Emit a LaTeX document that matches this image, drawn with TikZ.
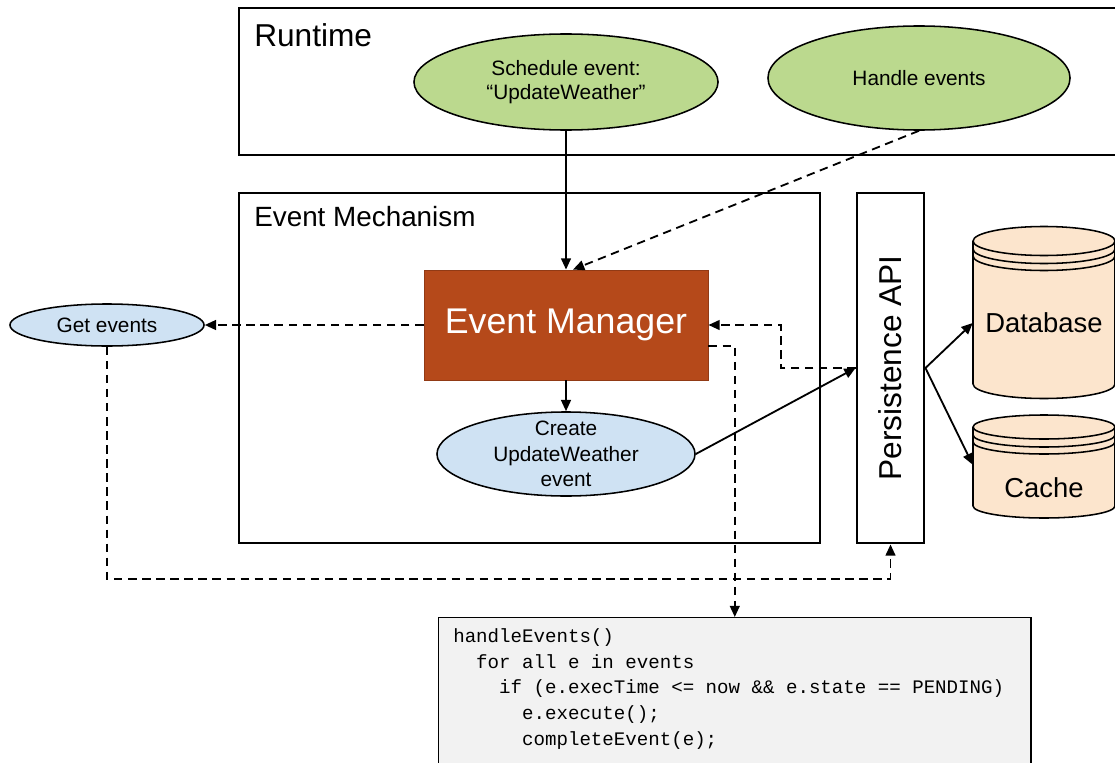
\documentclass[tikz,border=0pt]{standalone}
\usepackage{fontspec}
\setmainfont{Liberation Sans}
\setmonofont{Liberation Mono}
\usepackage{tikz}
\usetikzlibrary{arrows.meta, positioning, shapes.geometric}
\usepackage{xcolor}
\definecolor{taskgreen}{HTML}{BBD98E}
\definecolor{taskblue}{HTML}{CFE2F3}
\definecolor{managerred}{HTML}{B5491A}
\definecolor{storepeach}{HTML}{FCE5CD}
\definecolor{codegray}{HTML}{F2F2F2}

\begin{document}
\begin{tikzpicture}[x=0.025cm, y=-0.025cm,
  frame/.style={draw, line width=2pt},
  title/.style={anchor=west, inner sep=0pt},
  task/.style={ellipse, draw, line width=1.1pt, inner sep=0pt, align=center,
               font=\fontsize{14.8}{17}\selectfont},
  link/.style={line width=1.3pt, -{Triangle[length=8pt,width=7pt]}},
  dlink/.style={link, dash pattern=on 6pt off 4pt},
  store/.style={draw, fill=storepeach, line width=1.1pt},
  storetext/.style={inner sep=0pt, minimum width=3.55cm, minimum height=1.15cm,
                    font=\fontsize{19.5}{22}\selectfont}]
  \useasboundingbox (0,0) rectangle (1115,762);

  % containers
  \draw[frame] (239,8) rectangle (1125,155);
  \node[title, font=\fontsize{22.5}{26}\selectfont] (rtlabel) at (254,35) {Runtime};
  \draw[frame] (239,193) rectangle (820,543);
  \node[title, font=\fontsize{19.8}{23}\selectfont] (emlabel) at (254,217) {Event Mechanism};

  \node[task, fill=taskgreen, minimum width=7.6cm, minimum height=2.4cm] (sched) at (566,82)
    {Schedule event:\\“UpdateWeather”};
  \node[task, fill=taskgreen, minimum width=7.55cm, minimum height=2.6cm] (handle) at (919,78)
    {Handle events};
  \node[draw=managerred!80!black, fill=managerred, line width=0.6pt, minimum width=7.1cm,
        minimum height=2.75cm, text=white, font=\fontsize{25.4}{30}\selectfont] (em) at (566,325)
    {Event Manager};
  \node[task, fill=taskblue, minimum width=6.45cm, minimum height=2.1cm,
        label={[align=center, font=\fontsize{14.8}{18}\selectfont]center:Create\\UpdateWeather\\event}]
    (create) at (566,454) {};
  \node[task, fill=taskblue, minimum width=4.85cm, minimum height=1.05cm] (get) at (107,325) {Get events};
  \node[draw, line width=2pt, minimum width=1.675cm, minimum height=8.75cm,
        label={[rotate=90, font=\fontsize{22.5}{26}\selectfont]center:Persistence API}]
    (api) at (890.5,368) {};

  % storage cylinders
  \foreach \n/\ya/\yb/\ry/\lab/\ty in {db/241/384/14.5/Database/323, cache/427/506/12/Cache/488}
  {
    \filldraw[store] (973,\ya) -- (973,\yb) arc[start angle=180, end angle=0, x radius=71, y radius=\ry]
      -- (1115,\ya) arc[start angle=0, end angle=-180, x radius=71, y radius=\ry] -- cycle;
    \foreach \dy in {0,8,15}
      \draw[line width=1.1pt] (973,\ya+\dy) arc[start angle=180, end angle=0, x radius=71, y radius=\ry];
    \node[storetext] (\n) at (1044,\ty) {\lab};
  }

  % code listing
  \node[draw, line width=1pt, fill=codegray, anchor=north west, minimum width=14.8cm,
        minimum height=4.5cm] (code) at (438,617) {};
  \node[anchor=north west, inner sep=0pt, align=left, font=\ttfamily\fontsize{13.6}{18.4}\selectfont]
    (codetxt) at (453,628)
    {handleEvents()\\
     \phantom{xx}for all e in events\\
     \phantom{xxxx}if (e.execTime <= now \&\& e.state == PENDING)\\
     \phantom{xxxxxx}e.execute();\\
     \phantom{xxxxxx}completeEvent(e);};

  % connectors
  \draw[link] (sched.south) -- (em.north);
  \draw[dlink] (handle.south) -- ([xshift=0.175cm]em.north);
  \draw[dlink] (em.west) -- (get.east);
  \draw[link] (em.south) -- (create.north);
  \draw[link] (create.east) -- (api.west);
  \draw[dlink] (api.west) -- ++(-75,0) |- (em.east);
  \draw[dlink] ([yshift=-0.525cm]em.east) -| (code.north);
  \draw[dlink] (get.south) -- ++(0,232) -| (api.south);
  \draw[link] (api.east) -- (db.west);
  \draw[link] (api.east) -- (cache.north west);
\end{tikzpicture}
\end{document}
